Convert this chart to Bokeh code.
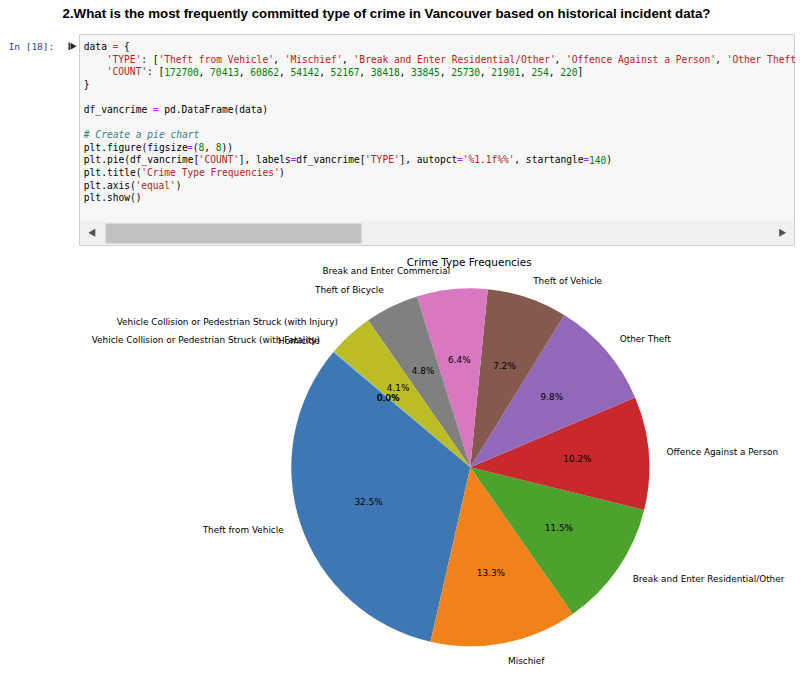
import numpy as np
from bokeh.plotting import figure
from bokeh.models import Range1d, ColumnDataSource
from bokeh.core.properties import value
from bokeh.embed import file_html
from bokeh.resources import INLINE

# ---------------- data ----------------
TYPES = ['Theft from Vehicle', 'Mischief', 'Break and Enter Residential/Other',
         'Offence Against a Person', 'Other Theft', 'Theft of Vehicle',
         'Break and Enter Commercial', 'Theft of Bicycle',
         'Vehicle Collision or Pedestrian Struck (with Injury)',
         'Vehicle Collision or Pedestrian Struck (with Fatality)', 'Homicide']
COUNTS = [172700, 70413, 60862, 54142, 52167, 38418, 33845, 25730, 21901, 254, 220]
PALETTE = ['#3d78b5', '#f08219', '#4ca22d', '#c9282d', '#9268bb',
           '#85594d', '#d878c1', '#808080', '#bcbd24', '#4fb8d0']
COLORS = [PALETTE[i % 10] for i in range(len(COUNTS))]
TITLE = "Crime Type Frequencies"
START_ANGLE = 140
HEADING = "2.What is the most frequently committed type of crime in Vancouver based on historical incident data?"
PROMPT = "In [18]:"

# ---------------- page geometry ----------------
W, H = 805, 696


def Y(py):
    return H - py


p = figure(width=W, height=H, x_range=Range1d(0, W), y_range=Range1d(0, H),
           output_backend="svg", toolbar_location=None, min_border=0,
           x_axis_location=None, y_axis_location=None)
p.grid.visible = False
p.outline_line_color = None
p.background_fill_color = "white"
p.border_fill_color = "white"

# ---------------- notebook heading ----------------
p.text(x=[62], y=[Y(13)], text=[HEADING], text_font=value("Liberation Sans"),
       text_font_size="13.3px", text_font_style="bold", text_color="#000000",
       text_align="left", text_baseline="middle")

# prompt
p.text(x=[8], y=[Y(46)], text=[PROMPT], text_font=value("DejaVu Sans Mono"),
       text_font_size="9.5px", text_color="#303F9F", text_align="left",
       text_baseline="middle")
# run icon
p.quad(left=[68], right=[69.4], top=[Y(42)], bottom=[Y(49.5)], fill_color="#222222",
       line_color=None)
p.scatter(x=[72], y=[Y(45.8)], marker="triangle", size=7, angle=-np.pi / 2,
          fill_color="#222222", line_color=None)

# code cell box
p.quad(left=[79], right=[794], top=[Y(34)], bottom=[Y(245)], fill_color="#f7f7f7",
       line_color="#cfcfcf", line_width=1)
# scrollbar
p.quad(left=[80], right=[793], top=[Y(221)], bottom=[Y(244)], fill_color="#f0f0f0",
       line_color=None)
p.quad(left=[105], right=[361], top=[Y(223)], bottom=[Y(243)], fill_color="#c1c1c1",
       line_color=None)
p.scatter(x=[92.5, 781], y=[Y(232.3), Y(232.3)], marker="triangle", size=8,
          angle=[np.pi / 2, -np.pi / 2], fill_color="#505050", line_color=None)

# code text
CODE_COLORS = {'n': '#000000', 's': '#BA2121', 'd': '#008000', 'o': '#AA22FF',
               'c': '#408080'}
count_tokens = [("    ", 'n'), ("'COUNT'", 's'), (": [", 'n')]
for i, c in enumerate(COUNTS):
    count_tokens.append((str(c), 'd'))
    count_tokens.append((", " if i < len(COUNTS) - 1 else "]", 'n'))
type_tokens = [("    ", 'n'), ("'TYPE'", 's'), (": [", 'n')]
for i, t in enumerate(TYPES):
    type_tokens.append(("'" + t + "'", 's'))
    type_tokens.append((", " if i < len(TYPES) - 1 else "]", 'n'))

CODE = [
    [("data", 'n'), (" ", 'n'), ("=", 'o'), (" {", 'n')],
    type_tokens,
    count_tokens,
    [("}", 'n')],
    [],
    [("df_vancrime ", 'n'), ("=", 'o'), (" pd.DataFrame(data)", 'n')],
    [],
    [("# Create a pie chart", 'c')],
    [("plt.figure(figsize", 'n'), ("=", 'o'), ("(", 'n'), ("8", 'd'), (", ", 'n'),
     ("8", 'd'), ("))", 'n')],
    [("plt.pie(df_vancrime[", 'n'), ("'COUNT'", 's'), ("], labels", 'n'), ("=", 'o'),
     ("df_vancrime[", 'n'), ("'TYPE'", 's'), ("], autopct", 'n'), ("=", 'o'),
     ("'%1.1f%%'", 's'), (", startangle", 'n'), ("=", 'o'), ("140", 'd'), (")", 'n')],
    [("plt.title(", 'n'), ("'Crime Type Frequencies'", 's'), (")", 'n')],
    [("plt.axis(", 'n'), ("'equal'", 's'), (")", 'n')],
    [("plt.show()", 'n')],
]
X0, CW, LINE0, LH, MAXCOL = 83.3, 5.74, 46.0, 12.6, 124
normal = dict(x=[], y=[], text=[], color=[])
italic = dict(x=[], y=[], text=[], color=[])
for k, segs in enumerate(CODE):
    col = 0
    for txt, kind in segs:
        if col >= MAXCOL:
            break
        t = txt[:MAXCOL - col]
        lead = len(t) - len(t.lstrip(' '))
        s = t.strip(' ')
        if s:
            d = italic if kind == 'c' else normal
            d['x'].append(X0 + (col + lead) * CW)
            d['y'].append(Y(LINE0 + k * LH))
            d['text'].append(s)
            d['color'].append(CODE_COLORS[kind])
        col += len(txt)
p.text(x='x', y='y', text='text', text_color='color', source=ColumnDataSource(normal),
       text_font=value("DejaVu Sans Mono"), text_font_size="9.6px",
       text_align="left", text_baseline="middle")
p.text(x='x', y='y', text='text', text_color='color', source=ColumnDataSource(italic),
       text_font=value("DejaVu Sans Mono"), text_font_size="9.6px",
       text_font_style="italic", text_align="left", text_baseline="middle")

# ---------------- pie chart ----------------
CX, CY, R = 469.8, Y(466.8), 179.0
counts = np.array(COUNTS, dtype=float)
frac = counts / counts.sum()
t1 = np.deg2rad(START_ANGLE) + 2 * np.pi * np.concatenate([[0.0], np.cumsum(frac)[:-1]])
t2 = t1 + 2 * np.pi * frac
mid = (t1 + t2) / 2

p.wedge(x=CX, y=CY, radius=R, start_angle=t1, end_angle=t2,
        fill_color=COLORS, line_color=None)

lx = CX + 1.1 * R * np.cos(mid)
ly = CY + 1.1 * R * np.sin(mid)
right = np.cos(mid) > 0
for mask, align in ((right, "left"), (~right, "right")):
    idx = np.where(mask)[0]
    p.text(x=lx[idx], y=ly[idx], text=[TYPES[i] for i in idx],
           text_font=value("DejaVu Sans"), text_font_size="8.9px",
           text_color="#000000", text_align=align, text_baseline="middle")

px = CX + 0.6 * R * np.cos(mid)
py = CY + 0.6 * R * np.sin(mid)
p.text(x=px, y=py, text=[f"{f * 100:.1f}%" for f in frac],
       text_font=value("DejaVu Sans"), text_font_size="8.9px", text_color="#000000",
       text_align="center", text_baseline="middle")

p.text(x=[468.7], y=[Y(261.3)], text=[TITLE], text_font=value("DejaVu Sans"),
       text_font_size="10.5px", text_color="#000000", text_align="center",
       text_baseline="middle")

open("out.html", "w").write(file_html(p, INLINE))
